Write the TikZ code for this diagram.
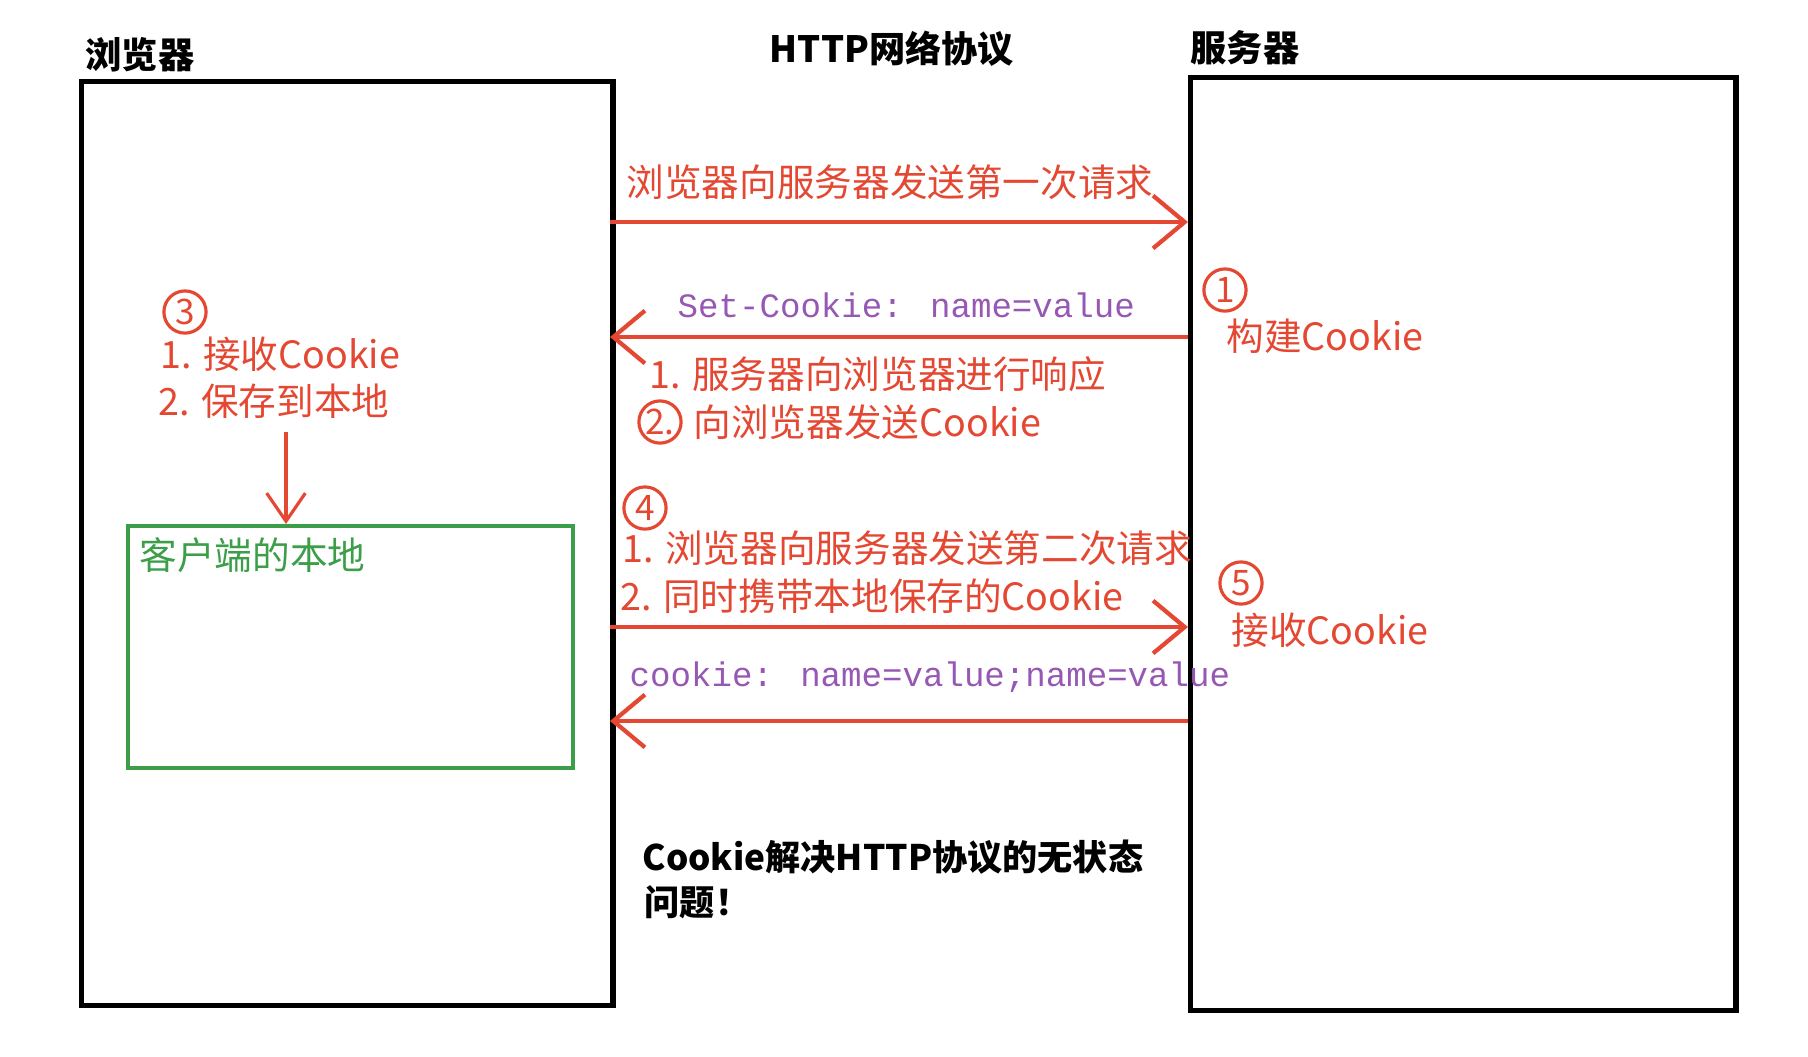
\documentclass[tikz,border=0pt]{standalone}
\usepackage{fontspec}
\setmainfont{Noto Sans CJK SC}
\newfontfamily\monofont{Liberation Mono}
\usetikzlibrary{arrows.meta}
\definecolor{cred}{RGB}{228,72,50}
\definecolor{cpurple}{RGB}{150,88,180}
\definecolor{cgreen}{RGB}{60,158,72}
\begin{document}
\begin{tikzpicture}[x=0.01cm,y=-0.01cm,
  box/.style={draw=black,line width=1.5pt,rectangle,inner sep=0pt,anchor=north west},
  lbl/.style={anchor=west,inner sep=0pt,text=cred,font=\fontsize{10.7pt}{13pt}\selectfont},
  ttl/.style={anchor=west,inner sep=0pt,font=\fontsize{10.3pt}{13pt}\selectfont\bfseries},
  code/.style={anchor=west,inner sep=0pt,text=cpurple,font=\monofont\fontsize{9.7pt}{12pt}\selectfont},
  num/.style={circle,draw=cred,line width=0.9pt,text=cred,inner sep=0pt,minimum size=12pt,font=\fontsize{10pt}{12pt}\selectfont},
  msg/.style={draw=cred,line width=1.2pt,-{Straight Barb[length=9pt,width=15pt,line width=1.2pt]}},
]
\useasboundingbox (0,0) rectangle (1808,1056);

% boxes
\node[box,minimum width=5.31cm,minimum height=9.23cm] (browser) at (79,79) {};
\node[box,minimum width=5.45cm,minimum height=9.32cm] (server) at (1188,75) {};
\node[box,draw=cgreen,line width=1.2pt,minimum width=4.45cm,minimum height=2.42cm] (local) at (126,524) {};

% titles
\node[ttl] (tb) at (85,55) {浏览器};
\node[ttl,anchor=center] (th) at (892,49) {HTTP网络协议};
\node[ttl] (ts) at (1190,48) {服务器};

% message end points
\coordinate (m1a) at (610,222);  \coordinate (m1b) at (1188,222);
\coordinate (m2a) at (1188,337); \coordinate (m2b) at (610,337);
\coordinate (m3a) at (610,627);  \coordinate (m3b) at (1188,627);
\coordinate (m4a) at (1188,721); \coordinate (m4b) at (610,721);
\coordinate (dn) at (286,432);

\draw[msg] (m1a) -- (m1b);
\draw[msg] (m2a) -- (m2b);
\draw[msg] (m3a) -- (m3b);
\draw[msg] (m4a) -- (m4b);
\draw[draw=cred,line width=0.9pt,-{Straight Barb[length=8pt,width=11pt,line width=0.9pt]}] (dn) -- (dn |- local.north);

% labels
\node[lbl] (t1) at (626,182) {浏览器向服务器发送第一次请求};
\node[code] (sc) at (677,305) {Set-Cookie: name=value};
\node[lbl] (r1) at (649,374) {1. 服务器向浏览器进行响应};
\node[num] (n2) at (660,422) {2.};
\node[lbl] (r2) at (693,422) {向浏览器发送Cookie};
\node[num] (n1) at (1225,290) {1};
\node[lbl] (b1) at (1226,336) {构建Cookie};
\node[num] (n3) at (185,312) {3};
\node[lbl] (c1) at (160,354) {1. 接收Cookie};
\node[lbl] (c2) at (158,401) {2. 保存到本地};
\node[lbl,text=cgreen] (loc) at (139,555) {客户端的本地};
\node[num] (n4) at (645,508) {4};
\node[lbl] (s1) at (622,548) {1. 浏览器向服务器发送第二次请求};
\node[lbl] (s2) at (620,596) {2. 同时携带本地保存的Cookie};
\node[num] (n5) at (1241,583) {5};
\node[lbl] (b2) at (1231,630) {接收Cookie};
\node[code] (ck) at (629,677) {cookie: name=value;name=value};
\node[ttl,font=\fontsize{10pt}{13pt}\selectfont\bfseries] (f1) at (642,857) {Cookie解决HTTP协议的无状态};
\node[ttl,font=\fontsize{10pt}{13pt}\selectfont\bfseries] (f2) at (644,902) {问题！};
\end{tikzpicture}
\end{document}
